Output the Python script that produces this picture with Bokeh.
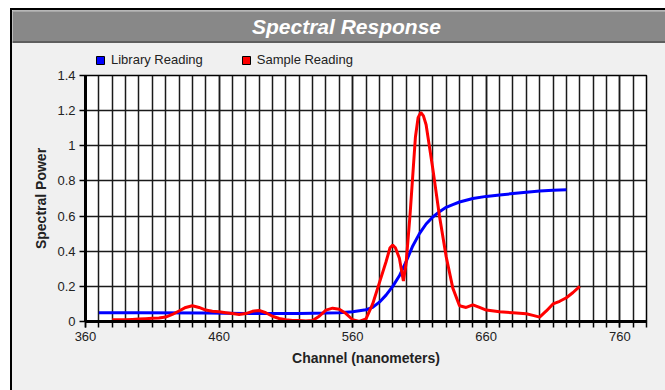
from bokeh.plotting import figure
from bokeh.models import (Range1d, FixedTicker, Legend, LegendItem, BoxAnnotation,
                          CustomJSTickFormatter, ColumnDataSource)
from bokeh.layouts import column
from bokeh.embed import file_html
from bokeh.resources import INLINE
from bokeh.core.properties import value

# ---------------- data ----------------
title_text = "Spectral Response"
x_label = "Channel (nanometers)"
y_label = "Spectral Power"
series_names = ["Library Reading", "Sample Reading"]
series_colors = ["#0000ff", "#ff0000"]

library_x = [370, 400, 450, 480, 500, 520, 540, 550, 560, 570, 575, 580, 585, 590,
             595, 600, 605, 610, 615, 620, 625, 630, 635, 640, 650, 660, 670, 680,
             690, 700, 710, 720]
library_y = [0.05, 0.05, 0.048, 0.045, 0.045, 0.045, 0.048, 0.05, 0.055, 0.067, 0.08,
             0.11, 0.15, 0.2, 0.26, 0.34, 0.43, 0.5, 0.555, 0.595, 0.625, 0.65, 0.665,
             0.68, 0.7, 0.712, 0.72, 0.728, 0.736, 0.742, 0.747, 0.75]

sample_x = [380, 385, 390, 395, 400, 405, 410, 415, 420, 425, 430, 435, 440, 445,
            450, 455, 460, 465, 470, 475, 480, 485, 490, 495, 500, 505, 510, 515,
            520, 525, 530, 535, 540, 545, 550, 555, 560, 565, 570, 575, 580, 585,
            588, 590, 592, 595, 598, 600, 603, 607, 609, 611, 613, 615, 620, 625,
            630, 635, 640, 645, 650, 655, 660, 670, 680, 690, 695, 700, 705, 710,
            715, 720, 725, 730]
sample_y = [0.01, 0.01, 0.01, 0.012, 0.014, 0.016, 0.018, 0.02, 0.025, 0.04, 0.06,
            0.08, 0.09, 0.08, 0.065, 0.058, 0.055, 0.05, 0.045, 0.04, 0.045, 0.058,
            0.063, 0.05, 0.03, 0.017, 0.01, 0.006, 0.005, 0.003, 0.005, 0.03, 0.065,
            0.076, 0.07, 0.045, 0.01, 0.0, 0.015, 0.1, 0.22, 0.34,
            0.42, 0.435, 0.42, 0.36, 0.23, 0.33, 0.61, 1.05, 1.16, 1.19, 1.17, 1.12,
            0.87, 0.6, 0.37, 0.19, 0.09, 0.08, 0.095, 0.08, 0.065, 0.055, 0.05, 0.044,
            0.035, 0.025, 0.06, 0.1, 0.115, 0.135, 0.165, 0.2]

x_major_ticks = [360, 460, 560, 660, 760]
x_minor_ticks = list(range(360, 790, 10))
y_ticks = [0, 0.2, 0.4, 0.6, 0.8, 1.0, 1.2, 1.4]

# ---------------- styles ----------------
FONT = "Liberation Sans"
BG = "#f0f0f0"
W = 653


def bare(fig, bg):
    fig.frame_align = False
    fig.axis.visible = False
    fig.grid.visible = False
    fig.outline_line_color = None
    fig.background_fill_color = bg
    fig.border_fill_color = bg


# title bar
tp = figure(width=W, height=33, output_backend="svg", toolbar_location=None,
            x_range=Range1d(0, W), y_range=Range1d(0, 33),
            min_border=0, min_border_left=0, min_border_right=0,
            min_border_top=0, min_border_bottom=0)
bare(tp, "#888888")
tp.add_layout(BoxAnnotation(top=2.5, fill_color="#5e5e5e", fill_alpha=1, line_alpha=0))
tp.add_layout(BoxAnnotation(bottom=31.5, fill_color="#a8a8a8", fill_alpha=1, line_alpha=0))
tp.text(x=[334], y=[17.5], text=[title_text], text_color="white",
        text_font=value(FONT), text_font_style="bold italic", text_font_size="21px",
        text_align="center", text_baseline="middle")

# legend strip (its ranges keep the key glyphs' own data out of view)
lp = figure(width=W, height=25, output_backend="svg", toolbar_location=None,
            x_range=Range1d(0, W), y_range=Range1d(-50, -25),
            min_border=0, min_border_left=0, min_border_right=0,
            min_border_top=0, min_border_bottom=0)
bare(lp, BG)
items = []
for name, color, xs, ys in [(series_names[0], series_colors[0], library_x, library_y),
                            (series_names[1], series_colors[1], sample_x, sample_y)]:
    src = ColumnDataSource(dict(x=xs, y=ys))
    r = lp.quad(left="x", right="x", top="y", bottom="y", source=src,
                fill_color=color, line_color="black", line_width=1)
    items.append(LegendItem(label=name, renderers=[r]))
legend = Legend(items=items, location=(83, 1), orientation="horizontal",
                glyph_width=10, glyph_height=10, label_height=12, label_standoff=6,
                spacing=38, padding=0, margin=0, background_fill_alpha=0,
                border_line_alpha=0, label_text_font=FONT,
                label_text_font_size="13px", label_text_color="#222222")
lp.add_layout(legend)

# main plot
p = figure(width=W, height=322, output_backend="svg", toolbar_location=None,
           x_range=Range1d(360, 780), y_range=Range1d(0, 1.4),
           min_border_left=73, min_border_right=19, min_border_top=7,
           min_border_bottom=69)
p.frame_align = False
p.background_fill_color = "white"
p.border_fill_color = BG
p.outline_line_color = "black"
p.outline_line_width = 1.5

p.xaxis.ticker = FixedTicker(ticks=x_major_ticks, minor_ticks=x_minor_ticks)
p.yaxis.ticker = FixedTicker(ticks=y_ticks, minor_ticks=[])
p.yaxis.formatter = CustomJSTickFormatter(code="return String(Math.round(tick*10)/10);")

for ax in (p.xaxis[0], p.yaxis[0]):
    ax.axis_line_color = "black"
    ax.axis_line_width = 3
    ax.major_tick_line_color = "black"
    ax.major_tick_line_width = 1.5
    ax.minor_tick_line_color = "black"
    ax.minor_tick_line_width = 1.5
    ax.major_tick_in = 0
    ax.major_tick_out = 6
    ax.minor_tick_in = 0
    ax.minor_tick_out = 6
    ax.major_label_text_font = FONT
    ax.major_label_text_font_size = "13px"
    ax.major_label_text_color = "#222222"
    ax.major_label_standoff = 4
    ax.axis_label_text_font = FONT
    ax.axis_label_text_font_style = "bold"
    ax.axis_label_text_font_size = "14px"
    ax.axis_label_text_color = "#222222"
p.xaxis.axis_label = x_label
p.yaxis.axis_label = y_label
p.xaxis.axis_label_standoff = 6
p.yaxis.axis_label_standoff = 5

p.xgrid.grid_line_color = "#1a1a1a"
p.xgrid.grid_line_width = 1.5
p.xgrid.minor_grid_line_color = "#1a1a1a"
p.xgrid.minor_grid_line_width = 1.5
p.ygrid.grid_line_color = "#1a1a1a"
p.ygrid.grid_line_width = 1.5

p.line(library_x, library_y, line_color=series_colors[0], line_width=3)
p.line(sample_x, sample_y, line_color=series_colors[1], line_width=3)

layout = column(tp, lp, p, spacing=0, margin=(8, 0, 0, 10),
                styles={"border-left": "2px solid black",
                        "border-top": "2px solid black",
                        "background-color": BG})

open("out.html", "w").write(file_html(layout, INLINE))
